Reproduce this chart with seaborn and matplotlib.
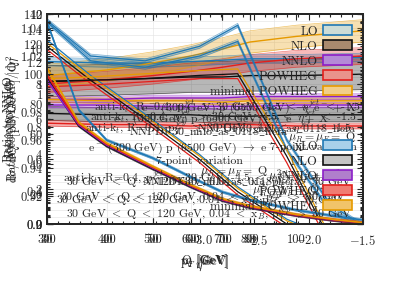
import numpy as np
import pandas as pd
import matplotlib
matplotlib.use("Agg")
import matplotlib.pyplot as plt
import seaborn as sns
from matplotlib.patches import Patch
from matplotlib.ticker import FormatStrFormatter, AutoMinorLocator, NullFormatter, FixedLocator

# Data
orders = ["LO", "NLO", "NNLO", "POWHEG", "minimal POWHEG"]
colors = {"LO": "#1f78b4", "NLO": "#111111", "NNLO": "#8c1fc8",
          "POWHEG": "#e3201c", "minimal POWHEG": "#e69a00"}

# ratio vs invariant mass
mass = [300, 400, 500, 600, 700, 800, 1000, 1380]
ratio_mass = {
    "LO": [1.016, 1.015, 1.015, 1.016, 1.017, 1.018, 1.018, 1.019],
    "NLO": [1.002, 1.003, 1.004, 1.005, 1.005, 1.006, 1.006, 1.007],
    "NNLO": [0.989, 0.989, 0.990, 0.990, 0.990, 0.991, 0.991, 0.991],
    "POWHEG": [1.000, 1.003, 1.006, 1.009, 1.012, 1.015, 1.018, 1.020],
    "minimal POWHEG": [1.006, 1.010, 1.015, 1.020, 1.025, 1.030, 1.034, 1.038],
}
err_mass = {"LO": 0.003, "NLO": 0.011, "NNLO": 0.002, "POWHEG": 0.006, "minimal POWHEG": 0.008}

# ratio vs jet pT (second observable, same frame)
ratio_pt = {
    "NLO": [0.979, 0.978, 0.978, 0.978, 0.977, 0.977, 0.978, 0.978],
    "NNLO": [0.985, 0.985, 0.984, 0.984, 0.984, 0.984, 0.985, 0.985],
    "POWHEG": [0.972, 0.971, 0.971, 0.970, 0.971, 0.971, 0.970, 0.970],
    "minimal POWHEG": [0.989, 0.988, 0.988, 0.988, 0.987, 0.988, 0.988, 0.988],
}
err_pt = {"NLO": 0.005, "NNLO": 0.002, "POWHEG": 0.002, "minimal POWHEG": 0.002}

# ratio vs jet eta
eta = [-4.4, -4.0, -3.5, -3.0, -2.65, -2.2, -1.8, -1.5]
ratio_eta_lo_a = [1.46, 1.24, 1.21, 1.30, 1.43, 0.72, 0.32, 0.19]
ratio_eta_lo_b = [1.45, 1.21, 1.17, 1.24, 1.33, 0.66, 0.28, 0.18]
ratio_eta_flat = {
    "NLO": [1.08, 1.09, 1.10, 1.12, 1.13, 0.62, 0.10, 0.00],
    "POWHEG": [1.05, 1.06, 1.08, 1.10, 1.10, 0.58, 0.06, 0.00],
    "minimal POWHEG": [1.10, 1.11, 1.13, 1.15, 1.16, 0.66, 0.12, 0.00],
}
ratio_eta_diag = {
    "LO": [1.34, 1.12, 0.88, 0.63, 0.43, 0.23, 0.12, 0.10],
    "NLO": [1.30, 1.09, 0.85, 0.60, 0.40, 0.20, 0.10, 0.08],
    "POWHEG": [1.28, 1.07, 0.83, 0.58, 0.38, 0.18, 0.09, 0.07],
    "minimal POWHEG": [1.32, 1.11, 0.87, 0.62, 0.42, 0.22, 0.11, 0.09],
}

# dsigma/dQ vs Q
q = [30, 35, 40, 50, 60, 70, 80, 100, 120, 138]
xsec_q = {
    "LO": [11.54, 6.51, 4.80, 3.77, 2.69, 1.83, 1.37, 0.80, 0.46, 0.23],
    "NLO": [8.34, 5.60, 4.46, 3.15, 2.13, 1.34, 0.94, 0.49, 0.21, 0.05],
    "NNLO": [8.23, 5.66, 4.51, 3.20, 2.17, 1.37, 0.97, 0.51, 0.23, 0.06],
    "POWHEG": [8.51, 5.72, 4.56, 3.24, 2.20, 1.40, 0.99, 0.52, 0.24, 0.07],
    "minimal POWHEG": [8.91, 5.80, 4.62, 3.29, 2.24, 1.44, 1.02, 0.55, 0.26, 0.08],
}

sns.set_style("ticks")
plt.rcParams["font.family"] = ["cmr10", "DejaVu Serif"]
plt.rcParams["mathtext.fontset"] = "cm"
plt.rcParams["axes.formatter.use_mathtext"] = True
plt.rcParams["font.size"] = 9

fig = plt.figure(figsize=(4.07, 2.85), dpi=100)
rect = [47 / 407, 61 / 285, 316 / 407, 210 / 285]


def new_axes(name):
    ax = fig.add_axes(rect, label=name)
    ax.set_facecolor("none")
    ax.tick_params(direction="in", which="both", top=True, right=True, labelsize=9,
                   length=4, width=0.8, pad=7)
    ax.tick_params(axis="y", pad=3)
    ax.tick_params(which="minor", length=2)
    for s in ax.spines.values():
        s.set_linewidth(1.2)
    return ax


def band(ax, x, y, e, c, a=0.3):
    y = np.array(y)
    ax.fill_between(x, y - e, y + e, color=c, alpha=a, lw=0)
    ax.plot(x, y - e, color=c, lw=0.5, alpha=0.6)
    ax.plot(x, y + e, color=c, lw=0.5, alpha=0.6)


# --- mass / pT ratios
ax_m = new_axes("mass")
ax_m.grid(True, which="both", color="#e2e2e2", lw=0.4)
rows = []
for o in orders:
    band(ax_m, mass, ratio_mass[o], err_mass[o], colors[o])
    rows += [(m, v, o) for m, v in zip(mass, ratio_mass[o])]
for o in ratio_pt:
    band(ax_m, mass, ratio_pt[o], err_pt[o], colors[o], a=0.35)
    rows += [(m, v, o + " pt") for m, v in zip(mass, ratio_pt[o])]
df_m = pd.DataFrame(rows, columns=["mass", "ratio", "order"])
pal = {o: colors[o] for o in orders}
pal.update({o + " pt": colors[o] for o in ratio_pt})
sns.lineplot(data=df_m, x="mass", y="ratio", hue="order", palette=pal, ax=ax_m,
             legend=False, lw=1.0)
ax_m.set_xscale("log")
ax_m.set_xlim(300, 1380)
ax_m.xaxis.set_major_locator(FixedLocator([300, 400, 500, 600, 700, 800]))
ax_m.xaxis.set_major_formatter(FormatStrFormatter("%g"))
ax_m.xaxis.set_minor_formatter(NullFormatter())
ax_m.set_ylim(0.9, 1.05)
ax_m.set_yticks([0.9, 0.92, 0.94, 0.96, 0.98, 1.0, 1.02, 1.04])
ax_m.yaxis.set_minor_locator(AutoMinorLocator())
ax_m.yaxis.set_major_formatter(FormatStrFormatter("%g"))
ax_m.set_xlabel("m [GeV]", labelpad=6)
ax_m.set_ylabel("Ratio to NNLO")

# --- eta ratios
ax_e = new_axes("eta")
band(ax_e, eta, ratio_eta_lo_a, 0.012, colors["LO"])
band(ax_e, eta, ratio_eta_lo_b, 0.012, colors["LO"])
ax_e.plot(eta, ratio_eta_lo_a, color=colors["LO"], lw=0.9)
ax_e.plot(eta, ratio_eta_lo_b, color=colors["LO"], lw=0.9)
df_e = pd.DataFrame([(x, v, o) for o in ratio_eta_diag for x, v in zip(eta, ratio_eta_diag[o])],
                    columns=["eta", "ratio", "order"])
sns.lineplot(data=df_e, x="eta", y="ratio", hue="order", palette=colors, ax=ax_e,
             legend=False, lw=0.9)
df_f = pd.DataFrame([(x, v, o) for o in ratio_eta_flat for x, v in zip(eta, ratio_eta_flat[o])],
                    columns=["eta", "ratio", "order"])
sns.lineplot(data=df_f, x="eta", y="ratio", hue="order", palette=colors, ax=ax_e,
             legend=False, lw=0.9)
ax_e.set_xlim(-4.4, -1.5)
ax_e.set_xticks([-3, -2.5, -2, -1.5])
ax_e.xaxis.set_minor_locator(AutoMinorLocator())
ax_e.set_ylim(0.2, 1.5)
ax_e.yaxis.set_minor_locator(AutoMinorLocator())
ax_e.yaxis.set_major_formatter(FormatStrFormatter("%g"))
ax_e.set_xlabel(r"$\eta^{jet}$", labelpad=6)
ax_e.set_ylabel(r"Ratio to NNLO $\mathrm{d}\sigma/\mathrm{d}\eta$")

# --- Q distribution
ax_q = new_axes("q")
df_q = pd.DataFrame([(x, v, o) for o in orders for x, v in zip(q, xsec_q[o])],
                    columns=["Q", "xsec", "order"])
for o in orders:
    band(ax_q, q, xsec_q[o], 0.07, colors[o], a=0.4)
sns.lineplot(data=df_q, x="Q", y="xsec", hue="order", palette=colors, ax=ax_q,
             legend=False, lw=1.2)
ax_q.set_xscale("log")
ax_q.set_xlim(30, 138)
ax_q.xaxis.set_major_locator(FixedLocator([30, 40, 50, 60, 70, 80, 100]))
ax_q.xaxis.set_major_formatter(FormatStrFormatter("%g"))
ax_q.xaxis.set_minor_formatter(NullFormatter())
ax_q.set_ylim(0, 12)
ax_q.yaxis.set_minor_locator(AutoMinorLocator())
ax_q.set_xlabel("Q [GeV]", labelpad=6)
ax_q.set_ylabel(r"d$\sigma$/dQ$^2$ [pb/GeV$^2$] $|$Q$^2$")

# --- extra frame for the overlapping ticks
ax_p = new_axes("pt")
ax_p.set_xlim(30, 100)
ax_p.set_xticks([])
ax_p.set_ylim(0, 140)
ax_p.yaxis.set_minor_locator(AutoMinorLocator())
ax_p.set_xlabel(r"p$_T$ [GeV]", labelpad=21)
ax_p.set_ylabel("Ratio to NLO")

# --- texts
tx = ax_p.transAxes
jet = r"anti-k$_t$, R=0.4, p$_T^{jet}$ $>$ 30 GeV, -4.5 $<$ $\eta^{jet}$ $<$ -1.5"
beam = r"e$^-$ (300 GeV) p (6500 GeV) $\rightarrow$ e$^-$ + X"
pdf = r"$\mathrm{NNPDF30\_nnlo\_as\_0118\_hera}$"
cuts = r"30 GeV $<$ Q $<$ 120 GeV, 0.04 $<$ x$_B$, p$_T^{lep}$ $>$ 30 GeV"
for x, y, ha, s in [(0.15, 0.56, "left", jet), (0.12, 0.46, "left", jet), (0.05, 0.22, "left", jet),
                    (0.98, 0.51, "right", jet), (0.98, 0.55, "right", beam), (0.21, 0.50, "left", beam),
                    (0.13, 0.36, "left", beam), (0.98, 0.455, "right", pdf), (0.26, 0.44, "left", pdf),
                    (0.30, 0.20, "left", pdf), (0.98, 0.41, "right", r"$\mu_R = \mu_F = $ Q"),
                    (0.70, 0.25, "right", r"$\mu_R = \mu_F = $ Q"),
                    (0.98, 0.365, "right", "7-point variation"), (0.62, 0.30, "right", "7-point variation"),
                    (0.06, 0.05, "left", cuts), (0.03, 0.115, "left", cuts), (0.04, 0.13, "left", cuts),
                    (0.06, 0.20, "left", cuts),
                    (0.70, 0.23, "left", r"$\mu_R^2 = \mu_F^2 = $ Q$^2$"),
                    (0.65, 0.16, "left", r"$\mu_R^2 = \mu_F^2 = $ Q$^2$")]:
    ax_p.text(x, y, s, transform=tx, ha=ha, va="center", fontsize=8.5)

# --- legends
up_fill = ["#cddcd6", "#a98a6e", "#b48ad6", "#e9948c", "#f2cf8a"]
lo_fill = ["#a8d0ea", "#c4c4c4", "#b07fcc", "#f07c72", "#f1c46a"]
up = [Patch(facecolor=f, edgecolor=colors[o], lw=1.2, label=o) for o, f in zip(orders, up_fill)]
lo = [Patch(facecolor=f, edgecolor=colors[o], lw=1.2, label=o) for o, f in zip(orders, lo_fill)]
leg_kw = dict(markerfirst=False, frameon=False, fontsize=9, handlelength=2.3,
              handleheight=0.85, labelspacing=0.22, borderaxespad=0.5, handletextpad=0.4)
leg1 = ax_p.legend(handles=up, loc="upper right", **leg_kw)
ax_p.add_artist(leg1)
ax_p.legend(handles=lo, loc="lower right", **leg_kw)

fig.savefig("out.png", dpi=100)
